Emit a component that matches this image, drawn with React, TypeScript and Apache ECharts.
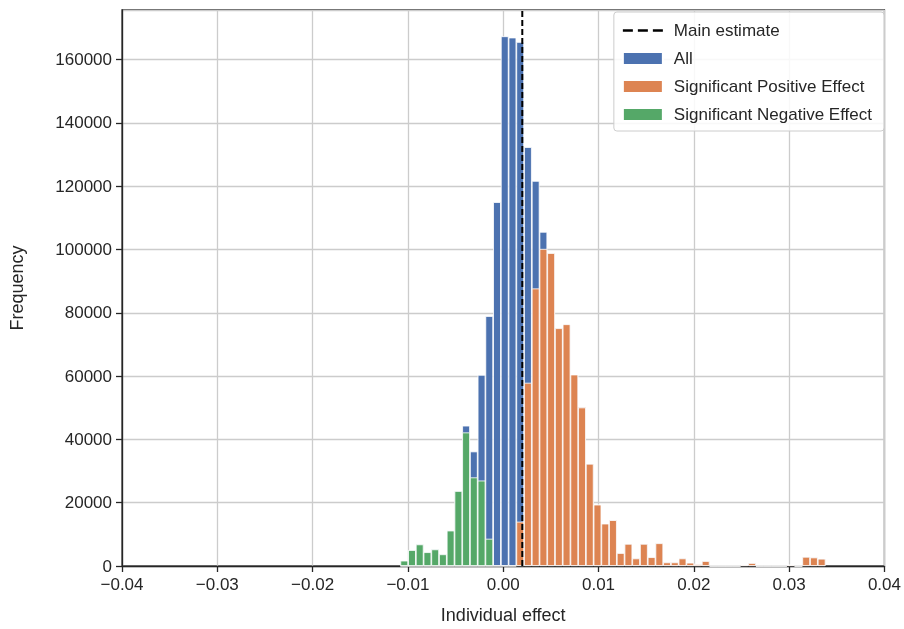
import { useEffect, useRef } from 'react';
import * as echarts from 'echarts';

// histogram bins: 55 bins starting at binStart, each binWidth wide
const binStart = -0.01079;
const binWidth = 0.000811;

const allCounts = [
  1700, 5040, 6830, 4370, 5260, 3700, 11200, 23700, 44350, 36200, 60400, 79000,
  115000, 167400, 167000, 165600, 132400, 121700, 105600, 98900, 75150, 76400,
  60500, 50100, 32300, 19400, 13400, 14500, 4100, 7000, 2400, 7000, 2800, 7200,
  1150, 1150, 2400, 1050, 600, 1570, 0, 0, 0, 0, 400, 950, 0, 0, 0, 0, 400, 0,
  2900, 2700, 2300,
];
const positiveCounts = [
  0, 0, 0, 0, 0, 0, 0, 0, 0, 0, 0, 0, 0, 0, 0, 14000, 57900, 87700, 100200,
  98900, 75150, 76400, 60500, 50100, 32300, 19400, 13400, 14500, 4100, 7000,
  2400, 7000, 2800, 7200, 1150, 1150, 2400, 1050, 600, 1570, 0, 0, 0, 0, 400,
  950, 0, 0, 0, 0, 400, 0, 2900, 2700, 2300,
];
const negativeCounts = [
  1700, 5040, 6830, 4370, 5260, 3700, 11200, 23700, 42200, 28000, 27000, 8600,
];
const mainEstimate = 0.002;

const toPoints = (counts: number[]) =>
  counts.map((c, i) => [binStart + binWidth * (i + 0.5), c]);

const dashIcon =
  'path://M0,0L10,0L10,2.4L0,2.4Z M15,0L25,0L25,2.4L15,2.4Z M30,0L40,0L40,2.4L30,2.4Z';

export default function App() {
  const chartRef = useRef<HTMLDivElement>(null);

  useEffect(() => {
    if (!chartRef.current) return;
    const chart = echarts.init(chartRef.current, null, { renderer: 'svg' });
    const font = 'Liberation Sans, Arial, sans-serif';
    const ink = '#262626';
    const barStyle = (color: string) => ({
      color,
      borderColor: '#ffffff',
      borderWidth: 0.8,
    });

    chart.setOption({
      animation: false,
      textStyle: { fontFamily: font },
      grid: {
        left: 117,
        right: 19,
        top: 10,
        bottom: 59,
        show: true,
        borderColor: ink,
        borderWidth: 1.3,
      },
      legend: {
        right: 20,
        top: 12,
        orient: 'vertical',
        itemWidth: 40,
        itemHeight: 13,
        itemGap: 11,
        padding: [10, 12, 8, 8],
        backgroundColor: 'rgba(255,255,255,0.85)',
        borderColor: '#cccccc',
        borderWidth: 1,
        borderRadius: 3,
        textStyle: { fontSize: 17, color: ink, fontFamily: font, padding: [0, 0, 0, 6] },
        data: [
          { name: 'Main estimate', icon: dashIcon, itemStyle: { color: '#000000' } },
          { name: 'All', icon: 'rect' },
          { name: 'Significant Positive Effect', icon: 'rect' },
          { name: 'Significant Negative Effect', icon: 'rect' },
        ],
      },
      xAxis: {
        type: 'value',
        min: -0.04,
        max: 0.04,
        interval: 0.01,
        name: 'Individual effect',
        nameLocation: 'middle',
        nameGap: 40,
        nameTextStyle: { fontSize: 18, color: ink },
        axisLine: { onZero: false, lineStyle: { color: ink, width: 1.3 } },
        axisTick: { show: true, length: 6, lineStyle: { color: ink, width: 1.3 } },
        axisLabel: {
          fontSize: 17,
          color: ink,
          margin: 10,
          formatter: (v: number) => {
            const s = Math.abs(v) < 1e-9 ? '0.00' : v.toFixed(2);
            return s.replace('-', '\u2212');
          },
        },
        splitLine: { lineStyle: { color: '#cccccc', width: 1.3 } },
      },
      yAxis: {
        type: 'value',
        min: 0,
        max: 175700,
        interval: 20000,
        name: 'Frequency',
        nameLocation: 'middle',
        nameGap: 96,
        nameTextStyle: { fontSize: 18, color: ink },
        axisLine: { show: true, onZero: false, lineStyle: { color: ink, width: 1.3 } },
        axisTick: { show: true, length: 6, lineStyle: { color: ink, width: 1.3 } },
        axisLabel: {
          fontSize: 17,
          color: ink,
          margin: 10,
          showMaxLabel: false,
          formatter: (v: number) => String(v),
        },
        splitLine: { lineStyle: { color: '#cccccc', width: 1.3 } },
      },
      series: [
        {
          name: 'All',
          type: 'bar',
          barWidth: 7.8,
          barGap: '-100%',
          itemStyle: barStyle('#4c72b0'),
          data: toPoints(allCounts),
          z: 2,
        },
        {
          name: 'Significant Positive Effect',
          type: 'bar',
          barWidth: 7.8,
          barGap: '-100%',
          itemStyle: barStyle('#dd8452'),
          data: toPoints(positiveCounts),
          z: 3,
        },
        {
          name: 'Significant Negative Effect',
          type: 'bar',
          barWidth: 7.8,
          barGap: '-100%',
          itemStyle: barStyle('#55a868'),
          data: toPoints(negativeCounts),
          z: 4,
        },
        {
          name: 'Main estimate',
          type: 'line',
          symbol: 'none',
          lineStyle: { color: '#000000', type: [6, 3], width: 2 },
          itemStyle: { color: '#000000' },
          data: [
            [mainEstimate, 0],
            [mainEstimate, 175700],
          ],
          z: 5,
        },
      ],
    });

    return () => chart.dispose();
  }, []);

  return (
    <div
      ref={chartRef}
      style={{ position: 'fixed', left: 0, top: 0, width: 904, height: 629 }}
    />
  );
}
